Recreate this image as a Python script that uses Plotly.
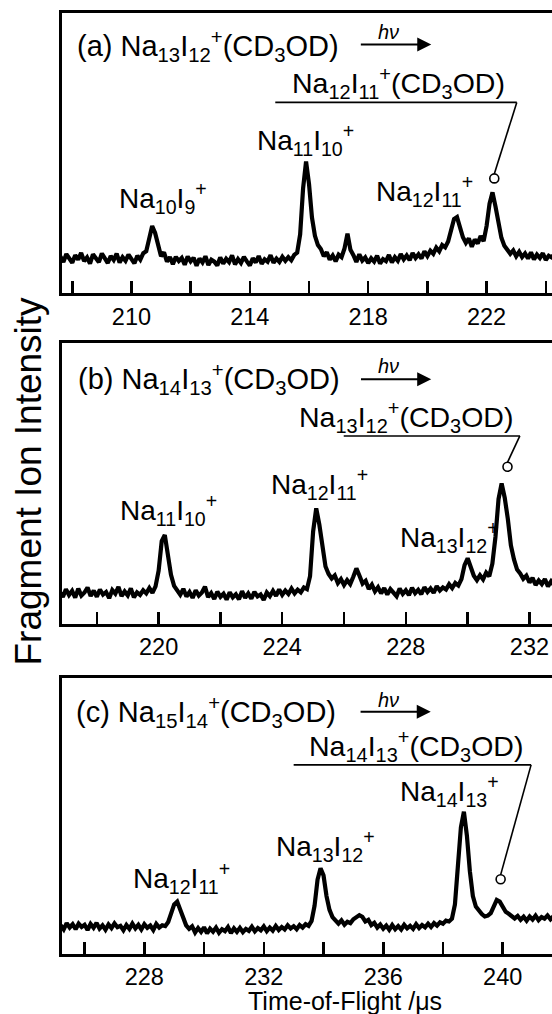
import numpy as np
import plotly.graph_objects as go

FONT = "Liberation Sans, Arial, Helvetica, sans-serif"
DT = 0.1

# ---------------- data ----------------
# (a) photofragments of Na13I12+(CD3OD); first sample at 207.6 µs
t0_a = 207.6
sig_a = [
    13.1, 11.2, 14.0, 12.1, 10.9, 13.6, 12.0, 14.4, 11.5, 12.8,
    10.6, 13.9, 12.4, 11.1, 14.2, 12.6, 10.8, 13.3, 11.9, 14.1,
    11.0, 12.9, 11.6, 13.8, 12.2, 10.7, 13.4, 12.0, 14.3, 15.0,
    19.5, 24.0, 21.5, 16.8, 13.2, 14.6, 11.3, 12.9, 10.4, 13.0,
    11.5, 12.6, 10.2, 13.1, 11.4, 12.7, 9.8, 12.4, 11.0, 13.2,
    10.1, 12.0, 11.3, 9.9, 12.8, 10.6, 12.3, 11.1, 13.5, 10.3,
    12.2, 10.8, 13.0, 11.4, 9.9, 12.5, 11.0, 13.3, 10.5, 12.1,
    11.3, 13.6, 10.9, 12.4, 11.2, 13.0, 11.6, 12.9, 11.8, 13.7,
    14.5, 21.0, 37.5, 47.0, 39.0, 27.0, 20.5, 17.2, 15.8, 13.2,
    14.6, 12.0, 13.5, 11.4, 13.8, 12.9, 16.0, 21.3, 15.5, 13.6,
    11.2, 13.9, 11.7, 12.8, 10.8, 12.5, 11.3, 13.4, 10.6, 12.2,
    11.5, 13.7, 11.0, 12.9, 11.6, 14.0, 12.1, 13.5, 11.8, 14.4,
    12.6, 13.9, 12.4, 15.0, 13.3, 15.2, 14.1, 16.3, 15.0, 17.2,
    16.4, 18.5, 22.0, 26.5, 27.2, 23.5, 20.0, 18.0, 19.6, 16.6,
    19.2, 17.8, 20.4, 18.6, 24.0, 32.0, 36.0, 31.0, 24.5, 19.8,
    17.0, 15.6, 14.1, 15.3, 13.2, 14.8, 12.9, 14.2, 12.4, 14.6,
    12.1, 13.8, 12.6, 14.3, 11.9, 13.4, 12.8, 14.1, 11.7, 13.6,
    12.3, 14.0, 11.8, 13.2, 12.5, 14.2, 12.0, 13.5, 12.2,
]
# (b) photofragments of Na14I13+(CD3OD); first sample at 216.8 µs
t0_b = 216.8
sig_b = [
    11.5, 9.6, 12.4, 10.3, 11.8, 9.4, 12.6, 10.1, 11.2, 13.0,
    10.0, 11.9, 9.7, 12.3, 10.5, 11.4, 9.2, 12.1, 10.8, 13.2,
    9.9, 11.6, 10.2, 12.7, 9.5, 11.3, 10.4, 12.0, 10.9, 12.8,
    11.1, 13.4, 19.0, 29.5, 31.7, 24.0, 17.5, 13.6, 12.2, 10.4,
    12.5, 9.8, 11.4, 9.3, 12.0, 10.1, 11.2, 13.3, 9.6, 11.0,
    8.9, 11.5, 9.7, 10.8, 8.7, 11.3, 9.5, 10.6, 8.8, 11.7,
    9.3, 10.9, 9.0, 11.4, 9.8, 10.5, 8.6, 11.2, 9.9, 11.8,
    10.0, 12.3, 10.4, 11.9, 10.7, 12.6, 10.9, 12.2, 11.3, 13.0,
    12.4, 17.0, 33.0, 41.2, 35.5, 26.5, 20.5, 17.8, 16.2, 17.3,
    14.6, 16.0, 13.9, 15.6, 14.2, 16.8, 19.8, 17.2, 14.4, 15.4,
    12.5, 14.0, 11.6, 13.1, 10.9, 12.8, 10.5, 12.4, 11.2, 9.9,
    12.6, 10.7, 12.0, 10.3, 12.9, 11.0, 12.2, 10.6, 13.1, 11.4,
    12.7, 11.1, 13.5, 11.9, 13.0, 12.3, 14.2, 12.8, 14.6, 13.7,
    16.0, 21.0, 23.4, 20.5, 17.2, 15.6, 17.4, 15.9, 18.3, 17.0,
    21.5, 31.0, 44.5, 50.1, 45.0, 37.5, 28.0, 23.0, 19.4, 18.0,
    16.1, 17.2, 14.8, 16.4, 13.9, 15.5, 14.2, 16.0, 13.4, 15.2,
    13.8, 15.9, 13.6, 14.9, 12.8, 15.0, 13.3, 14.6, 13.1, 14.4,
]
# (c) photofragments of Na15I14+(CD3OD); first sample at 225.2 µs
t0_c = 225.2
sig_c = [
    10.4, 8.9, 11.2, 9.6, 10.8, 9.0, 11.0, 9.8, 10.6, 8.7,
    10.9, 9.5, 11.3, 9.2, 10.4, 8.8, 10.7, 9.4, 11.1, 9.7,
    10.2, 8.6, 10.5, 9.1, 11.0, 9.3, 10.6, 8.9, 10.8, 9.5,
    10.3, 8.7, 10.9, 9.6, 10.4, 10.1, 11.6, 14.5, 18.0, 19.0,
    15.8, 12.6, 10.4, 9.1, 10.0, 7.8, 9.4, 8.0, 9.7, 7.5,
    9.2, 8.1, 9.6, 7.7, 9.0, 8.3, 9.8, 7.6, 9.3, 8.0,
    9.5, 7.9, 9.1, 8.4, 9.9, 8.2, 9.4, 8.6, 10.0, 8.3,
    9.6, 8.5, 10.2, 8.7, 9.8, 8.9, 10.4, 9.3, 10.1, 9.0,
    10.5, 9.6, 10.8, 10.2, 12.0, 17.5, 27.0, 31.1, 28.5, 21.0,
    16.0, 13.4, 12.1, 11.0, 12.2, 10.6, 11.7, 11.2, 12.6, 13.3,
    14.1, 13.5, 11.8, 12.4, 10.5, 11.3, 9.6, 10.7, 9.2, 10.3,
    8.8, 10.5, 9.0, 10.1, 8.9, 10.6, 9.3, 10.2, 9.1, 10.8,
    9.4, 10.5, 9.7, 11.0, 9.8, 11.2, 10.3, 11.5, 11.0, 12.1,
    11.8, 12.8, 18.0, 32.0, 46.0, 51.6, 43.0, 30.0, 21.0, 17.2,
    15.6, 14.5, 13.6, 13.9, 14.8, 17.2, 19.6, 19.0, 17.0, 15.3,
    14.6, 13.5, 12.9, 13.8, 12.4, 13.5, 12.1, 13.6, 12.5, 13.9,
    12.3, 13.4, 12.8, 14.0, 12.6, 13.7, 12.9, 14.1, 13.0, 13.8,
    12.7, 14.0, 13.1, 13.9, 12.8, 13.6,
]

# axis ranges (µs) and tick labels
xrange_a = [207.64, 224.21]
xrange_b = [216.86, 232.73]
xrange_c = [225.23, 241.65]
ticks_a = [210, 214, 218, 222]
ticks_b = [220, 224, 228, 232]
ticks_c = [228, 232, 236, 240]

# texts
titles = [
    "(a) Na<sub>13</sub>I<sub>12</sub><sup>+</sup>(CD<sub>3</sub>OD)",
    "(b) Na<sub>14</sub>I<sub>13</sub><sup>+</sup>(CD<sub>3</sub>OD)",
    "(c) Na<sub>15</sub>I<sub>14</sub><sup>+</sup>(CD<sub>3</sub>OD)",
]
adduct_labels = [
    "Na<sub>12</sub>I<sub>11</sub><sup>+</sup>(CD<sub>3</sub>OD)",
    "Na<sub>13</sub>I<sub>12</sub><sup>+</sup>(CD<sub>3</sub>OD)",
    "Na<sub>14</sub>I<sub>13</sub><sup>+</sup>(CD<sub>3</sub>OD)",
]
peak_labels_a = ["Na<sub>10</sub>I<sub>9</sub><sup>+</sup>",
                 "Na<sub>11</sub>I<sub>10</sub><sup>+</sup>",
                 "Na<sub>12</sub>I<sub>11</sub><sup>+</sup>"]
peak_labels_b = ["Na<sub>11</sub>I<sub>10</sub><sup>+</sup>",
                 "Na<sub>12</sub>I<sub>11</sub><sup>+</sup>",
                 "Na<sub>13</sub>I<sub>12</sub><sup>+</sup>"]
peak_labels_c = ["Na<sub>12</sub>I<sub>11</sub><sup>+</sup>",
                 "Na<sub>13</sub>I<sub>12</sub><sup>+</sup>",
                 "Na<sub>14</sub>I<sub>13</sub><sup>+</sup>"]
# adduct peak positions marked with open circles (µs, intensity)
adduct_peaks = [(222.26, 41.0), (231.29, 56.0), (239.93, 27.1)]

# ---------------- layout helpers (positions / styles) ----------------
W, H = 552, 1014
XDOM = [61.6 / W, 1.0]
YDOMS = [[1 - 293.3 / H, 1 - 13 / H],
         [1 - 624.0 / H, 1 - 343.3 / H],
         [1 - 954.0 / H, 1 - 678.3 / H]]

panels = [
    dict(t0=t0_a, sig=sig_a, xr=xrange_a, ticks=ticks_a, title=titles[0],
         title_pos=(208.08, 88.2), arrow=(217.70, 220.13, 88.8), hv=(218.69, 93.2),
         adduct=adduct_labels[0], adduct_pos=(219.03, 74.9),
         bracket=(214.86, 223.02, 68.1), circ=adduct_peaks[0],
         labels=peak_labels_a, label_pos=[(211.06, 33.9), (215.87, 54.7), (219.90, 36.5)]),
    dict(t0=t0_b, sig=sig_b, xr=xrange_b, ticks=ticks_b, title=titles[1],
         title_pos=(217.33, 87.3), arrow=(226.50, 228.82, 87.2), hv=(227.43, 91.9),
         adduct=adduct_labels[1], adduct_pos=(227.99, 73.7),
         bracket=(225.99, 231.69, 67.0), circ=adduct_peaks[1],
         labels=peak_labels_b, label_pos=[(220.32, 40.6), (225.22, 49.9), (229.40, 31.1)]),
    dict(t0=t0_c, sig=sig_c, xr=xrange_c, ticks=ticks_c, title=titles[2],
         title_pos=(225.66, 87.6), arrow=(235.19, 237.59, 87.9), hv=(236.16, 92.3),
         adduct=adduct_labels[2], adduct_pos=(237.10, 75.4),
         bracket=(233.00, 240.95, 68.6), circ=adduct_peaks[2],
         labels=peak_labels_c, label_pos=[(229.26, 27.7), (234.06, 39.2), (238.22, 59.2)]),
]

fig = go.Figure()
annotations = []
shapes = []

for i, p in enumerate(panels):
    n = "" if i == 0 else str(i + 1)
    xa, ya = "x" + n, "y" + n
    t = np.round(p["t0"] + DT * np.arange(len(p["sig"])), 3)
    fig.add_trace(go.Scatter(x=t, y=p["sig"], mode="lines",
                             line=dict(color="black", width=4.2),
                             xaxis=xa, yaxis=ya, hoverinfo="skip"))
    # open circle on the adduct peak
    fig.add_trace(go.Scatter(x=[p["circ"][0]], y=[p["circ"][1]], mode="markers",
                             marker=dict(symbol="circle-open", size=9,
                                         color="black", line=dict(width=1.6)),
                             xaxis=xa, yaxis=ya, hoverinfo="skip"))

    lo = int(np.ceil(p["xr"][0] / 2.0) * 2)
    tv = list(range(lo, int(p["xr"][1]) + 1, 2))
    tt = [str(v) if v in p["ticks"] else "" for v in tv]
    fig.update_layout(**{
        ("xaxis" + n): dict(domain=XDOM, range=p["xr"], anchor=ya,
                            showline=True, linewidth=3, linecolor="black", mirror=True,
                            ticks="inside", ticklen=12, tickwidth=2.5, tickcolor="black",
                            tickmode="array", tickvals=tv, ticktext=tt,
                            tickfont=dict(size=23.5, color="black", family=FONT),
                            showgrid=False, zeroline=False, fixedrange=True),
        ("yaxis" + n): dict(domain=YDOMS[i], range=[0, 100], anchor=xa,
                            showline=True, linewidth=3, linecolor="black", mirror=False,
                            ticks="", showticklabels=False,
                            showgrid=False, zeroline=False, fixedrange=True),
    })

    ref = dict(xref=xa, yref=ya)
    # panel title
    annotations.append(dict(text=p["title"], x=p["title_pos"][0], y=p["title_pos"][1],
                            xanchor="left", yanchor="middle", showarrow=False,
                            font=dict(size=29), **ref))
    # h nu arrow
    x_tail, x_head, y_ar = p["arrow"]
    annotations.append(dict(text="", x=x_head, y=y_ar, ax=x_tail, ay=y_ar,
                            axref=xa, ayref=ya, showarrow=True, arrowhead=2,
                            arrowsize=1.4, arrowwidth=2, arrowcolor="black", **ref))
    annotations.append(dict(text="<i>hν</i>", x=p["hv"][0], y=p["hv"][1],
                            xanchor="center", yanchor="middle", showarrow=False,
                            font=dict(size=20), **ref))
    # adduct label + bracket
    annotations.append(dict(text=p["adduct"], x=p["adduct_pos"][0], y=p["adduct_pos"][1],
                            xanchor="center", yanchor="middle", showarrow=False,
                            font=dict(size=28.5), **ref))
    bx0, bx1, by = p["bracket"]
    shapes.append(dict(type="line", x0=bx0, x1=bx1, y0=by, y1=by,
                       line=dict(color="black", width=1.6), **ref))
    shapes.append(dict(type="line", x0=bx1, x1=p["circ"][0], y0=by, y1=p["circ"][1] + 1.6,
                       line=dict(color="black", width=1.6), **ref))
    # fragment labels
    for txt, (lx, ly) in zip(p["labels"], p["label_pos"]):
        annotations.append(dict(text=txt, x=lx, y=ly, xanchor="center", yanchor="middle",
                                showarrow=False, font=dict(size=28), **ref))

# axis titles
annotations.append(dict(text="Fragment Ion Intensity", xref="paper", yref="paper",
                        x=28 / W, y=1 - 481.5 / H, xanchor="center", yanchor="middle",
                        textangle=-90, showarrow=False, font=dict(size=37)))
annotations.append(dict(text="Time-of-Flight /μs", xref="paper", yref="paper",
                        x=345 / W, y=1 - 1001 / H, xanchor="center", yanchor="middle",
                        showarrow=False, font=dict(size=25)))

fig.update_layout(width=W, height=H, margin=dict(l=0, r=0, t=0, b=0, autoexpand=False),
                  paper_bgcolor="white", plot_bgcolor="white", showlegend=False,
                  font=dict(family=FONT, color="black"),
                  annotations=annotations, shapes=shapes)

# place the figure flush with the page corner (no default body margin), no mode bar
fig.write_html("out.html",
               config={"displayModeBar": False, "staticPlot": True},
               post_script="document.body.style.margin='0px';"
                           "document.body.style.padding='0px';")
